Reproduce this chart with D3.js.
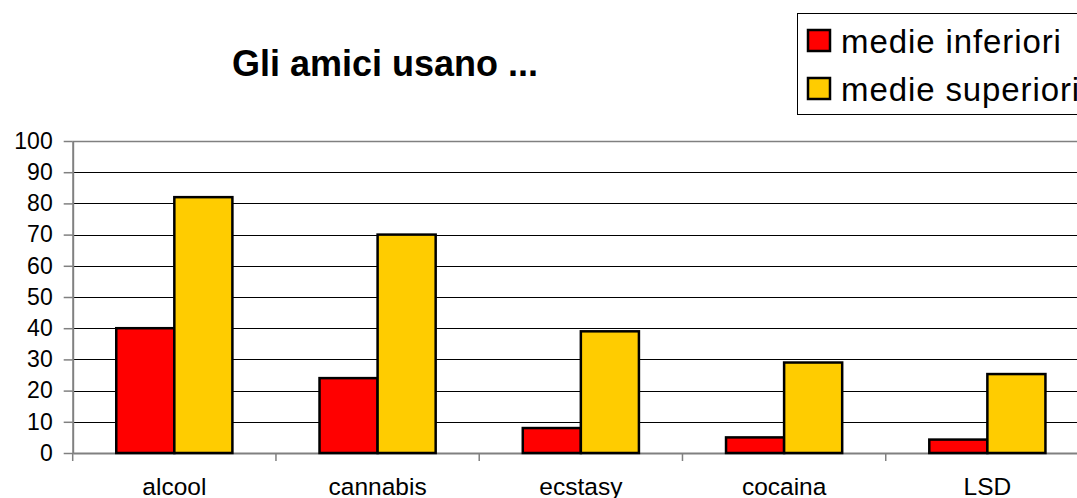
<!DOCTYPE html>
<html>
<head>
<meta charset="utf-8">
<script src="https://cdn.jsdelivr.net/npm/d3@7"></script>
<style>
  html, body { margin: 0; padding: 0; background: #fff; }
  svg { display: block; font-family: "Liberation Sans", Arial, sans-serif; }
</style>
</head>
<body>
<svg id="chart" width="1077" height="498"></svg>
<script>
// Categories and series values (percent)
const categories = ["alcool", "cannabis", "ecstasy", "cocaina", "LSD"];
const seriesNames = ["medie inferiori", "medie superiori"];
const inferiori = [40, 24, 8, 5, 4.3];
const superiori = [82, 70, 39, 29, 25.3];
const yTicks = [0, 10, 20, 30, 40, 50, 60, 70, 80, 90, 100];
const colors = ["#FF0000", "#FFCC00"];
const title = "Gli amici usano ...";

const svg = d3.select("#chart");

const plot = { left: 72.7, right: 1089, top: 141, bottom: 453 };

const x = d3.scaleBand().domain(categories).range([plot.left, plot.right]).paddingInner(0).paddingOuter(0);
const y = d3.scaleLinear().domain([0, 100]).range([plot.bottom, plot.top]);

// bars use a 150% gap: group = 2 bars + 1.5 bar widths
const barW = x.bandwidth() / 3.5;
const x1 = d3.scaleBand().domain(seriesNames).range([0.75 * barW, 0.75 * barW + 2 * barW]);

// horizontal gridlines
svg.append("g")
  .selectAll("line")
  .data(yTicks.filter(d => d > 0))
  .join("line")
  .attr("x1", plot.left).attr("x2", plot.right)
  .attr("y1", d => Math.round(y(d)) + 0.5).attr("y2", d => Math.round(y(d)) + 0.5)
  .attr("stroke", d => d === 100 ? "#808080" : "#000")
  .attr("stroke-width", d => d === 100 ? 1.5 : 1);

// y axis
const yAxis = svg.append("g")
  .attr("transform", `translate(${plot.left},0)`)
  .call(d3.axisLeft(y).tickValues(yTicks).tickSize(9).tickPadding(11).tickSizeOuter(0));
yAxis.select(".domain").attr("stroke", "#808080").attr("stroke-width", 2);
yAxis.selectAll(".tick line").attr("stroke", "#808080").attr("stroke-width", 1.5);
yAxis.selectAll(".tick text")
  .attr("font-size", 23).attr("fill", "#000")
  .attr("font-family", "Liberation Sans, Arial, sans-serif");

// x axis
const xAxis = svg.append("g")
  .attr("transform", `translate(0,${plot.bottom})`)
  .call(d3.axisBottom(x).tickSize(0).tickPadding(25).tickSizeOuter(0));
xAxis.select(".domain").attr("stroke", "#808080").attr("stroke-width", 2);
xAxis.selectAll(".tick text")
  .attr("font-size", 24.5).attr("fill", "#000")
  .attr("font-family", "Liberation Sans, Arial, sans-serif");
// category separators
xAxis.append("g")
  .selectAll("line")
  .data(categories)
  .join("line")
  .attr("x1", d => x(d)).attr("x2", d => x(d))
  .attr("y1", 0).attr("y2", 8)
  .attr("stroke", "#808080").attr("stroke-width", 1.5);

// bars
const groups = svg.append("g")
  .selectAll("g")
  .data(categories.map((c, i) => ({ c, vals: [inferiori[i], superiori[i]] })))
  .join("g")
  .attr("transform", d => `translate(${x(d.c)},0)`);

groups.selectAll("rect")
  .data(d => d.vals.map((v, i) => ({ v, s: seriesNames[i], i })))
  .join("rect")
  .attr("x", d => x1(d.s))
  .attr("width", x1.bandwidth())
  .attr("y", d => y(d.v))
  .attr("height", d => y(0) - y(d.v))
  .attr("fill", d => colors[d.i])
  .attr("stroke", "#000")
  .attr("stroke-width", 2.5);

// title
svg.append("text")
  .attr("x", 385).attr("y", 76)
  .attr("text-anchor", "middle")
  .attr("font-size", 36).attr("font-weight", "bold")
  .text(title);

// legend
const legend = svg.append("g");
legend.append("rect")
  .attr("x", 797.5).attr("y", 13.5).attr("width", 300).attr("height", 101)
  .attr("fill", "#fff").attr("stroke", "#000").attr("stroke-width", 1);
const items = legend.selectAll("g.item")
  .data(seriesNames)
  .join("g").attr("class", "item")
  .attr("transform", (d, i) => `translate(0,${i * 48})`);
items.append("rect")
  .attr("x", 808).attr("y", 30).attr("width", 22).attr("height", 21)
  .attr("fill", (d, i) => colors[i]).attr("stroke", "#000").attr("stroke-width", 2.5);
items.append("text")
  .attr("x", 841).attr("y", 52.5)
  .attr("font-size", 33)
  .attr("letter-spacing", 0.9)
  .text(d => d);
</script>
</body>
</html>
